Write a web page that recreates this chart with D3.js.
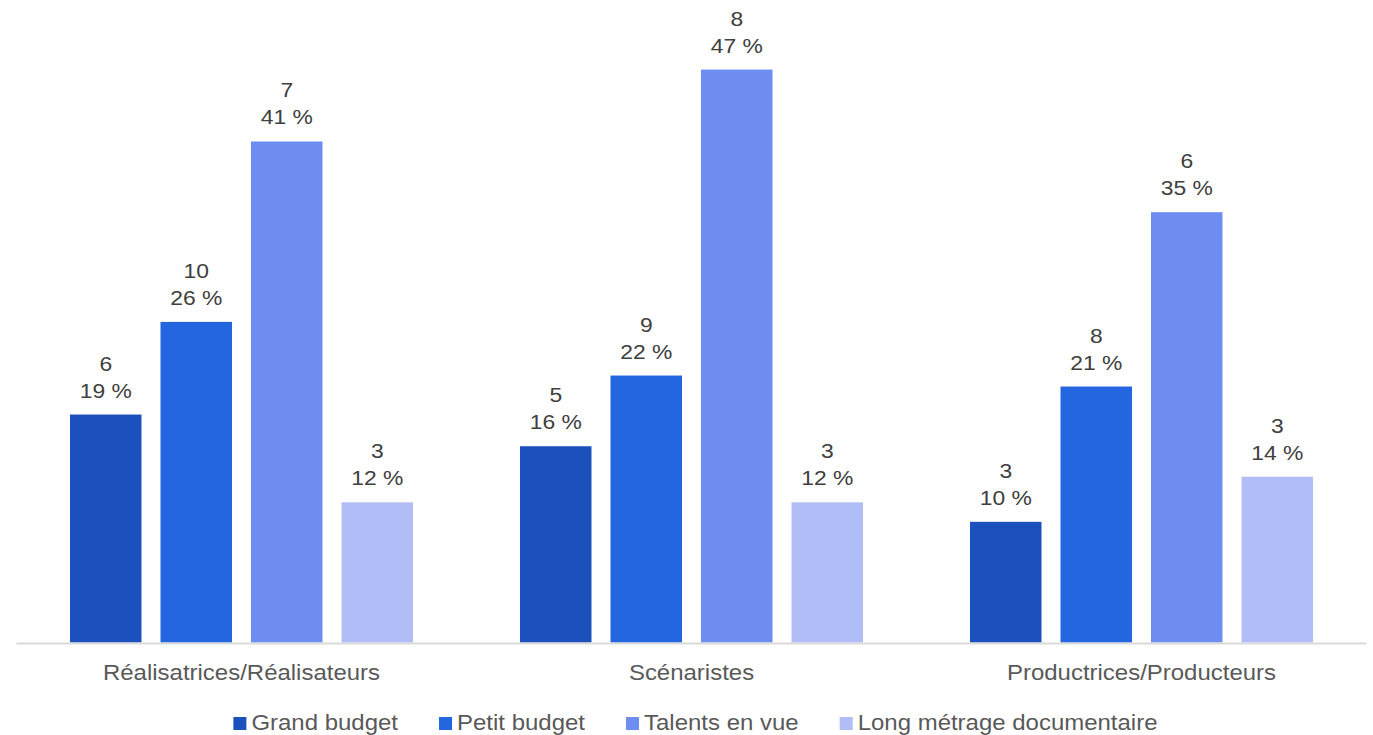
<!DOCTYPE html>
<html><head><meta charset="utf-8">
<script src="https://cdn.jsdelivr.net/npm/d3@7/dist/d3.min.js"></script>
<style>
html,body{margin:0;padding:0;background:#fff;}
svg{display:block;font-family:"Liberation Sans", Arial, sans-serif;}
</style></head>
<body>
<svg id="chart" width="1373" height="735"></svg>
<script>
const categories = ["Réalisatrices/Réalisateurs", "Scénaristes", "Productrices/Producteurs"];
const seriesNames = ["Grand budget", "Petit budget", "Talents en vue", "Long métrage documentaire"];
const seriesColors = ["#1c50bc", "#2366df", "#6e8df1", "#b1bdf6"];
// counts per category (rows) and series (columns)
const counts = [
  [6, 10, 7, 3],
  [5, 9, 8, 3],
  [3, 8, 6, 3]
];
// share in percent (bar heights), labels show the rounded value
const shares = [
  [18.7, 26.3, 41.1, 11.5],
  [16.1, 21.9, 47.0, 11.5],
  [9.9, 21.0, 35.3, 13.6]
];

const svg = d3.select("#chart");
const W = 1373, H = 735;
const baseY = 642.5;

const x0 = d3.scaleBand().domain(categories).range([16.5, 1366.5]).padding(0);
const x1 = d3.scaleBand().domain(seriesNames).range([53.5, 396.5]).paddingInner(0.21).paddingOuter(0);
const y = d3.scaleLinear().domain([0, 50]).range([baseY, baseY - 50 * 12.19]);

const SX = 1.09; // horizontal stretch of text seen in reference

const data = [];
categories.forEach((c, i) => seriesNames.forEach((s, j) => {
  data.push({cat: c, ser: s, j, count: counts[i][j], share: shares[i][j]});
}));

const g = svg.append("g");
g.selectAll("rect.bar").data(data).join("rect")
  .attr("class", "bar")
  .attr("x", d => x0(d.cat) + x1(d.ser))
  .attr("width", x1.bandwidth())
  .attr("y", d => y(d.share))
  .attr("height", d => baseY - y(d.share))
  .attr("fill", d => seriesColors[d.j]);

// axis line
svg.append("line")
  .attr("x1", x0.range()[0]).attr("x2", x0.range()[1])
  .attr("y1", baseY + 1).attr("y2", baseY + 1)
  .attr("stroke", "#d9d9d9").attr("stroke-width", 2);

// data labels
const lab = g.selectAll("g.lab").data(data).join("g")
  .attr("class", "lab")
  .attr("transform", d => `translate(${x0(d.cat) + x1(d.ser) + x1.bandwidth() / 2},${y(d.share)})`);
lab.append("text")
  .attr("transform", `translate(0,-44) scale(${SX},1)`)
  .attr("text-anchor", "middle").attr("font-size", 21).attr("fill", "#404040")
  .text(d => d.count);
lab.append("text")
  .attr("transform", `translate(0,-17) scale(${SX},1)`)
  .attr("text-anchor", "middle").attr("font-size", 21).attr("fill", "#404040")
  .text(d => Math.round(d.share) + " %");

// category axis labels
const xAxis = d3.axisBottom(x0).tickSize(0).tickPadding(0);
const ax = svg.append("g").attr("transform", `translate(0,${baseY})`).call(xAxis);
ax.select(".domain").remove();
ax.selectAll("text")
  .attr("y", null).attr("dy", null)
  .attr("transform", `translate(0,37) scale(${SX},1)`)
  .attr("font-size", 22).attr("font-family", '"Liberation Sans", Arial, sans-serif')
  .attr("fill", "#595959");

// legend
const leg = svg.append("g");
const items = leg.selectAll("g").data(seriesNames).join("g");
items.append("rect").attr("width", 13).attr("height", 13).attr("y", 717)
  .attr("fill", (d, i) => seriesColors[i]);
const ltexts = items.append("text").attr("font-size", 22).attr("fill", "#595959")
  .text(d => d);
let widths = [];
ltexts.each(function(){ widths.push(this.getComputedTextLength() * SX); });
const gapSw = 18, gapItem = 41;
let total = 0;
widths.forEach((w, i) => { total += 13 + (gapSw - 13) + w + (i < widths.length - 1 ? gapItem : 0); });
let cx = 695.5 - total / 2;
items.each(function(d, i){
  const it = d3.select(this);
  it.select("rect").attr("x", cx);
  it.select("text").attr("transform", `translate(${cx + gapSw},730) scale(${SX},1)`);
  cx += gapSw + widths[i] + gapItem;
});
</script>
</body></html>
